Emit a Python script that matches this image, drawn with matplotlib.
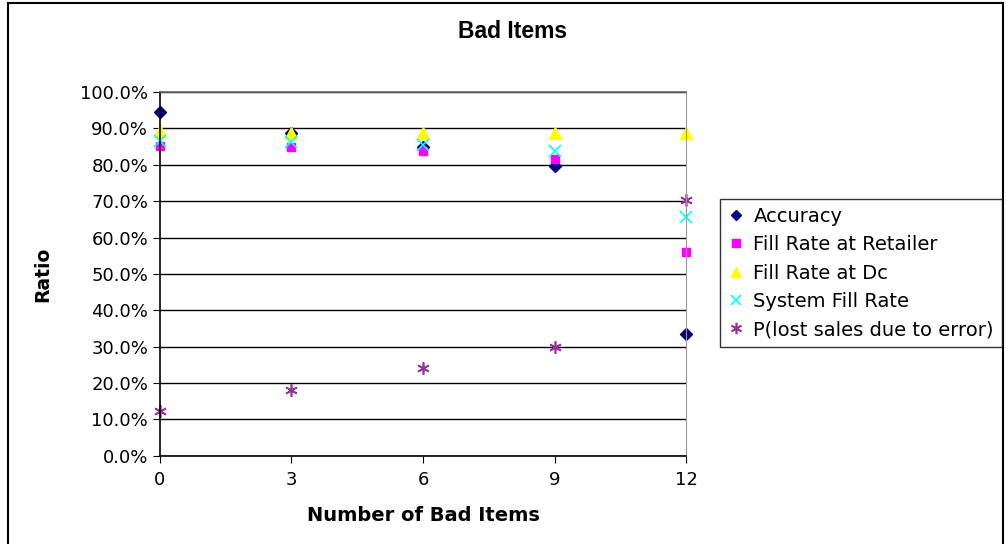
import matplotlib.pyplot as plt
from matplotlib.patches import Rectangle
from matplotlib.ticker import FuncFormatter

plt.rcParams['font.family'] = ['DejaVu Sans']

bad_items = [0, 3, 6, 9, 12]
accuracy = [94.5, 88.8, 85.0, 79.7, 33.5]
fill_rate_retailer = [85.2, 84.9, 83.8, 81.6, 56.0]
fill_rate_dc = [89.4, 88.7, 88.7, 88.7, 88.7]
system_fill_rate = [86.6, 86.3, 85.4, 83.9, 65.7]
p_lost_sales = [12.4, 18.1, 24.2, 30.0, 70.3]

fig = plt.figure(figsize=(10.06, 5.44), dpi=100)
ax = fig.add_axes([0.159, 0.162, 0.523, 0.669])

ax.plot(bad_items, accuracy, linestyle='none', marker='D', markersize=6,
        color='#000080', label='Accuracy')
ax.plot(bad_items, fill_rate_retailer, linestyle='none', marker='s', markersize=6,
        color='#FF00FF', label='Fill Rate at Retailer')
ax.plot(bad_items, fill_rate_dc, linestyle='none', marker='^', markersize=8,
        color='#FFFF00', label='Fill Rate at Dc')
ax.plot(bad_items, system_fill_rate, linestyle='none', marker='x', markersize=8,
        markeredgewidth=1.2, color='#00FFFF', label='System Fill Rate')
ax.plot(bad_items, p_lost_sales, linestyle='none', marker=(6, 2, 0), markersize=9,
        markeredgewidth=1.2, color='#993399', label='P(lost sales due to error)')

ax.set_xlim(0, 12)
ax.set_ylim(0, 100)
ax.set_xticks(bad_items)
ax.set_yticks(range(0, 101, 10))
ax.yaxis.set_major_formatter(FuncFormatter(lambda v, p: f"{v:.1f}%"))
ax.tick_params(axis='both', labelsize=13, direction='out', length=5, color='black')
ax.tick_params(axis='x', pad=6)

ax.grid(axis='y', color='black', linewidth=1)
ax.set_axisbelow(True)
for side in ['left', 'bottom']:
    ax.spines[side].set_color('black')
    ax.spines[side].set_linewidth(1.2)
ax.spines['right'].set_color('#999999')
ax.spines['top'].set_color('#666666')
ax.spines['top'].set_linewidth(1.2)
for p in ax.get_lines():
    p.set_clip_on(False)

fig.text(0.51, 0.943, 'Bad Items', fontsize=16.5, fontweight='bold',
         family='Liberation Sans', ha='center', va='center')
ax.set_xlabel('Number of Bad Items', fontsize=14, fontweight='bold', labelpad=12)
ax.set_ylabel('Ratio', fontsize=13.5, fontweight='bold', labelpad=20)

leg = fig.legend(loc='upper left', bbox_to_anchor=(0.716, 0.634), fontsize=14,
                 frameon=True, fancybox=False, edgecolor='black',
                 handlelength=0.8, handletextpad=0.5, borderpad=0.4,
                 labelspacing=0.48, markerscale=0.9, borderaxespad=0)
leg.get_frame().set_linewidth(1)

fig.patches.append(Rectangle((0.008, -0.01), 0.989, 1.005, transform=fig.transFigure,
                             fill=False, edgecolor='black', linewidth=1.5))

fig.savefig('out.png', dpi=100)
